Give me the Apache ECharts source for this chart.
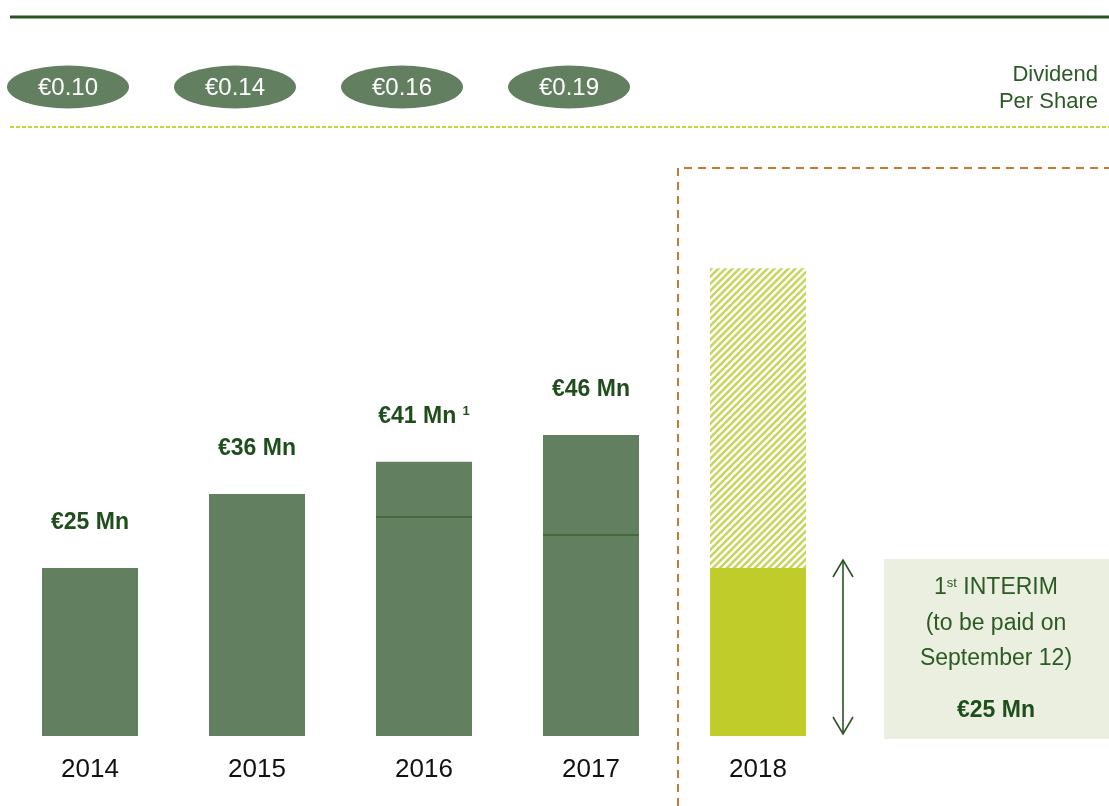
<!DOCTYPE html>
<html>
<head>
<meta charset="utf-8">
<script src="https://cdn.jsdelivr.net/npm/echarts@6/dist/echarts.min.js"></script>
<style>
  html, body { margin: 0; padding: 0; background: #fff; }
  #main { width: 1109px; height: 806px; }
</style>
</head>
<body>
<div id="main"></div>
<script>
// data
const years = ['2014', '2015', '2016', '2017', '2018'];
const dps = [0.10, 0.14, 0.16, 0.19];
const baseVals = [25, 36, 32.6, 29.9, null];   // lower part of each bar
const topVals = [null, null, 8.2, 14.9, null];  // upper part (2016, 2017)
const interimVals = [null, null, null, null, 25];
const expectedVals = [null, null, null, null, 44.6];
const totalLabels = ['€25 Mn', '€36 Mn', '€41 Mn', '€46 Mn', ''];
const footnote = ['', '', '1', '', ''];

const NARROW = "'Liberation Sans Narrow', 'Arial Narrow', 'Liberation Sans', sans-serif";
const DARK = '#1f4d1c';
const BAR = '#62805f';

// hatch pattern for the not yet declared part of 2018
const hatch = document.createElement('canvas');
hatch.width = 7; hatch.height = 7;
const hc = hatch.getContext('2d');
hc.fillStyle = '#fff';
hc.fillRect(0, 0, 7, 7);
hc.strokeStyle = '#c6d65e';
hc.lineWidth = 2.6;
hc.beginPath();
hc.moveTo(-1, 8); hc.lineTo(8, -1);
hc.moveTo(-1, 1); hc.lineTo(1, -1);
hc.moveTo(6, 8); hc.lineTo(8, 6);
hc.stroke();

function labelItem(i) {
  return {
    show: true,
    position: 'top',
    distance: 34,
    formatter: footnote[i] ? '{b|' + totalLabels[i] + ' }{s|' + footnote[i] + '}' : '{b|' + totalLabels[i] + '}',
    rich: {
      b: { fontFamily: NARROW, fontWeight: 'bold', fontSize: 23, color: DARK },
      s: { fontFamily: NARROW, fontWeight: 'bold', fontSize: 13, color: DARK, verticalAlign: 'top', padding: [0, 0, 8, 0] }
    }
  };
}

const baseData = baseVals.map((v, i) => ({
  value: v,
  label: topVals[i] == null && v != null ? labelItem(i) : { show: false }
}));
const topData = topVals.map((v, i) => ({
  value: v,
  label: v != null ? labelItem(i) : { show: false }
}));
const splitData = [];
baseVals.forEach((v, i) => { if (topVals[i] != null) splitData.push([i, v]); });

var myChart = echarts.init(document.getElementById('main'));
var option = {
  animation: false,
  grid: [
    { left: 6.5, right: 267.5, top: 198.4, bottom: 70 },
    { left: 6.5, right: 267.5, top: 60, height: 54 }
  ],
  xAxis: [
    {
      type: 'category', data: years, gridIndex: 0,
      axisLine: { show: false }, axisTick: { show: false },
      axisLabel: { margin: 21, fontSize: 26, color: '#111', fontFamily: "'Liberation Sans', Arial, sans-serif" }
    },
    { type: 'category', data: years, gridIndex: 1, show: false }
  ],
  yAxis: [
    { type: 'value', min: 0, max: 80, gridIndex: 0, show: false },
    { type: 'value', min: 0, max: 1, gridIndex: 1, show: false }
  ],
  series: [
    {
      type: 'bar', name: 'base', stack: 'a', barWidth: 96,
      itemStyle: { color: BAR }, data: baseData
    },
    {
      type: 'bar', name: 'top', stack: 'a', barWidth: 96,
      itemStyle: { color: BAR }, data: topData
    },
    {
      type: 'bar', name: 'interim', stack: 'a', barWidth: 96,
      itemStyle: { color: '#c0cc2a' }, data: interimVals
    },
    {
      type: 'bar', name: 'expected', stack: 'a', barWidth: 96,
      itemStyle: { color: { image: hatch, repeat: 'repeat' } }, data: expectedVals
    },
    {
      type: 'custom', name: 'split', z: 5,
      renderItem: function (params, api) {
        const p = api.coord([api.value(0), api.value(1)]);
        return {
          type: 'line',
          shape: { x1: p[0] - 48, y1: p[1], x2: p[0] + 48, y2: p[1] },
          style: { stroke: '#3b6332', lineWidth: 1.5 }
        };
      },
      data: splitData
    },
    {
      type: 'scatter', name: 'dps', xAxisIndex: 1, yAxisIndex: 1,
      symbol: 'circle', symbolSize: [122, 43], symbolOffset: [-22, 0],
      itemStyle: { color: BAR, opacity: 1 },
      label: {
        show: true, position: 'inside', offset: [0, 1],
        color: '#fff', fontSize: 24, fontFamily: NARROW,
        formatter: p => '€' + dps[p.dataIndex].toFixed(2)
      },
      data: dps.map((v, i) => [i, 0.5])
    }
  ]
};
myChart.setOption(option);

// annotations
const barTop = myChart.convertToPixel({ gridIndex: 0 }, [4, interimVals[4]]);
const barBot = myChart.convertToPixel({ gridIndex: 0 }, [4, 0]);
const ax = barTop[0] + 85;
const ay1 = barTop[1] - 8, ay2 = barBot[1] - 2;
const txtStyle = { fontFamily: NARROW, fontSize: 23, fill: '#2b5a25', align: 'center', verticalAlign: 'middle' };

myChart.setOption({
  graphic: [
    { type: 'line', shape: { x1: 10, y1: 17, x2: 1109, y2: 17 }, style: { stroke: '#2a5522', lineWidth: 3 } },
    { type: 'line', shape: { x1: 10, y1: 127, x2: 1109, y2: 127 }, style: { stroke: '#c6d43c', lineWidth: 2, lineDash: [4, 2] } },
    { type: 'polyline', shape: { points: [[678, 806], [678, 168], [1109, 168]] }, style: { stroke: '#c87a30', lineWidth: 2, lineDash: [8, 6], fill: null } },
    { type: 'text', x: 1098, y: 75, style: Object.assign({}, txtStyle, { text: 'Dividend', align: 'right', fontSize: 22 }) },
    { type: 'text', x: 1098, y: 102, style: Object.assign({}, txtStyle, { text: 'Per Share', align: 'right', fontSize: 22 }) },
    { type: 'rect', shape: { x: 884, y: 559, width: 225, height: 180 }, style: { fill: '#eaefdf' } },
    {
      type: 'text', x: 996, y: 588,
      style: Object.assign({}, txtStyle, {
        text: '{a|1}{s|st}{a| INTERIM}',
        rich: {
          a: { fontFamily: NARROW, fontSize: 23, fill: '#2b5a25' },
          s: { fontFamily: NARROW, fontSize: 13, fill: '#2b5a25', verticalAlign: 'top', padding: [0, 0, 8, 0] }
        }
      })
    },
    { type: 'text', x: 996, y: 624, style: Object.assign({}, txtStyle, { text: '(to be paid on' }) },
    { type: 'text', x: 996, y: 659, style: Object.assign({}, txtStyle, { text: 'September 12)' }) },
    { type: 'text', x: 996, y: 711, style: Object.assign({}, txtStyle, { text: '€25 Mn', fontWeight: 'bold', fill: DARK }) },
    // double arrow
    { type: 'line', shape: { x1: ax, y1: ay1, x2: ax, y2: ay2 }, style: { stroke: '#2a5522', lineWidth: 1.6 } },
    { type: 'polyline', shape: { points: [[ax - 10, ay1 + 17], [ax, ay1], [ax + 10, ay1 + 17]] }, style: { stroke: '#2a5522', lineWidth: 1.6, fill: null } },
    { type: 'polyline', shape: { points: [[ax - 10, ay2 - 17], [ax, ay2], [ax + 10, ay2 - 17]] }, style: { stroke: '#2a5522', lineWidth: 1.6, fill: null } }
  ]
});
</script>
</body>
</html>
